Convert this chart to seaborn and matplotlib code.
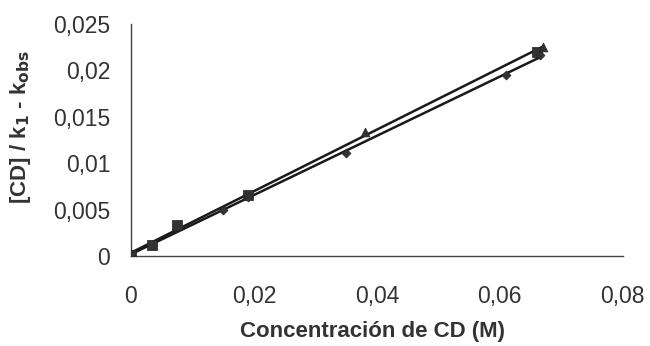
import matplotlib
matplotlib.use("Agg")
import matplotlib.pyplot as plt
import seaborn as sns
import numpy as np
import pandas as pd
from matplotlib.ticker import FuncFormatter

# Data
sq_x = [0.0, 0.0035, 0.0075, 0.019, 0.066]
sq_y = [0.0001, 0.0012, 0.0033, 0.0066, 0.0220]
di_x = [0.0, 0.015, 0.019, 0.035, 0.061, 0.0665]
di_y = [0.0002, 0.0050, 0.0064, 0.0111, 0.0195, 0.0216]
tr_x = [0.038, 0.067]
tr_y = [0.0134, 0.0225]

x_ticks = [0, 0.02, 0.04, 0.06, 0.08]
y_ticks = [0, 0.005, 0.01, 0.015, 0.02, 0.025]

sns.set_style("white")
plt.rcParams['font.family'] = ['Liberation Sans', 'DejaVu Sans']

fig = plt.figure(figsize=(6.5, 3.46), dpi=100)
ax = fig.add_axes([0.2015, 0.26, 0.7565, 0.671])

upper = pd.DataFrame({"x": sq_x + tr_x, "y": sq_y + tr_y})
lower = pd.DataFrame({"x": di_x, "y": di_y})

sns.regplot(data=upper, x="x", y="y", ci=None, scatter=False, ax=ax,
            line_kws=dict(color="#1a1a1a", lw=1.8))
sns.regplot(data=lower, x="x", y="y", ci=None, scatter=False, ax=ax,
            line_kws=dict(color="#1a1a1a", lw=1.8))

sns.scatterplot(x=sq_x, y=sq_y, marker="s", s=45, color="#333333", edgecolor="#222222", ax=ax, zorder=5)
sns.scatterplot(x=di_x, y=di_y, marker="D", s=22, color="#333333", edgecolor="#222222", ax=ax, zorder=5)
sns.scatterplot(x=tr_x, y=tr_y, marker="^", s=40, color="#333333", edgecolor="#222222", ax=ax, zorder=5)

ax.set_xlim(0, 0.08)
ax.set_ylim(0, 0.025)
ax.set_xticks(x_ticks)
ax.set_yticks(y_ticks)
fmt = FuncFormatter(lambda v, p: ("%g" % round(v, 4)).replace(".", ","))
ax.xaxis.set_major_formatter(fmt)
ax.yaxis.set_major_formatter(fmt)

for s in ["top", "right"]:
    ax.spines[s].set_visible(False)
for s in ["left", "bottom"]:
    ax.spines[s].set_color("#444444")
    ax.spines[s].set_linewidth(1.0)
ax.tick_params(axis="both", which="major", direction="out", length=6, width=1,
               color="#444444", labelsize=16.5, labelcolor="#333333", pad=9)
ax.tick_params(axis="x", pad=15)

ax.set_xlabel("Concentración de CD (M)", fontsize=16, fontweight="bold", color="#333333")
ax.set_ylabel("[CD] / k$_\\mathbf{1}$ - k$_\\mathbf{obs}$", fontsize=16, fontweight="bold", color="#333333")
ax.xaxis.set_label_coords(0.492, -0.28)
ax.yaxis.set_label_coords(-0.199, 0.556)

fig.savefig("out.png", dpi=100, facecolor="white")
